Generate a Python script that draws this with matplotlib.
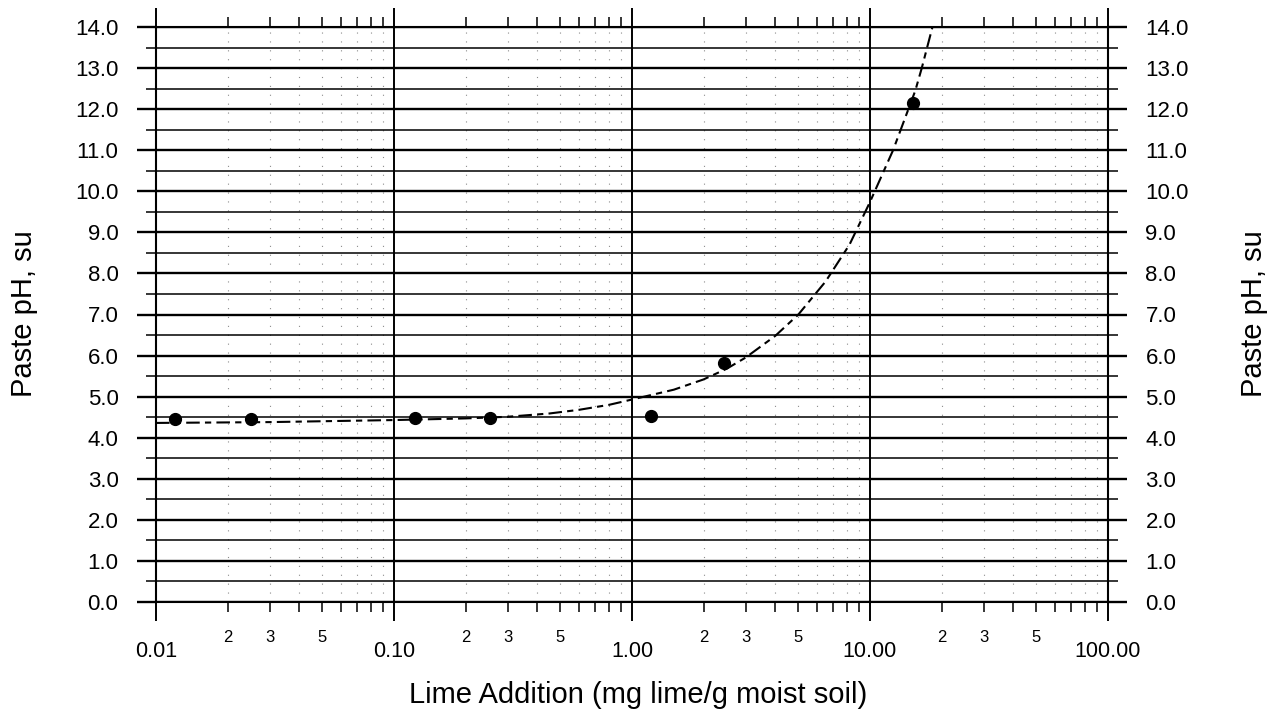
import matplotlib
matplotlib.use("Agg")
import matplotlib.pyplot as plt
from matplotlib.ticker import LogLocator, FuncFormatter, MultipleLocator, FormatStrFormatter
import numpy as np

plt.rcParams['font.family'] = ['Liberation Sans', 'DejaVu Sans']

# measured data points
lime_mg = [0.012, 0.025, 0.122, 0.253, 1.20, 2.44, 15.2]
paste_ph = [4.45, 4.45, 4.47, 4.48, 4.54, 5.81, 12.16]

# trend curve
curve_x = [0.01, 0.03, 0.1, 0.2, 0.3, 0.45, 0.6, 0.8, 1.0, 1.5, 2.0, 2.5, 3.0, 4.0,
           5.0, 6.5, 8.2, 10.0, 12.5, 15.5, 16.5, 18.3]
curve_y = [4.36, 4.38, 4.43, 4.47, 4.51, 4.59, 4.68, 4.80, 4.93, 5.17, 5.42, 5.68, 5.95, 6.48,
           7.0, 7.8, 8.7, 9.74, 11.0, 12.45, 13.0, 14.0]

x_major = [0.01, 0.1, 1, 10, 100]
x_major_labels = ['0.01', '0.10', '1.00', '10.00', '100.00']
x_minor_labelled = {2: '2', 3: '3', 5: '5'}

W, H = 1282, 716
fig = plt.figure(figsize=(W / 100, H / 100), dpi=100)
ax = fig.add_axes([156 / W, 1 - 602 / H, (1108 - 156) / W, (602 - 27) / H])

ax.set_xscale('log')
ax.set_xlim(0.01, 100)
ax.set_ylim(0, 14)

ax.set_xticks(x_major)
ax.set_xticklabels(x_major_labels)
ax.xaxis.set_minor_locator(LogLocator(base=10, subs=range(2, 10)))


def minor_fmt(v, pos):
    m = int(round(v / 10 ** np.floor(np.log10(v) + 1e-9)))
    return x_minor_labelled.get(m, '')


ax.xaxis.set_minor_formatter(FuncFormatter(minor_fmt))

ax.yaxis.set_major_locator(MultipleLocator(1.0))
ax.yaxis.set_minor_locator(MultipleLocator(0.5))
ax.yaxis.set_major_formatter(FormatStrFormatter('%.1f'))

# grid
ax.grid(True, which='major', axis='y', color='black', lw=1.7)
ax.grid(True, which='minor', axis='y', color='black', lw=1.1)
ax.grid(True, which='major', axis='x', color='black', lw=1.4)
ax.grid(True, which='minor', axis='x', color='0.55', lw=0.8, linestyle=(0, (1, 7)))
ax.set_axisbelow(True)

for s in ax.spines.values():
    s.set_linewidth(1.5)

ax.tick_params(axis='y', which='major', direction='out', length=14, width=1.7,
               left=True, right=True, labelleft=True, labelright=True, labelsize=16, pad=13)
ax.tick_params(axis='y', which='minor', direction='out', length=7, width=1.1,
               left=True, right=True)
ax.tick_params(axis='x', which='major', direction='out', length=14, width=1.4,
               top=True, bottom=True, labelsize=15.5, pad=14)
ax.tick_params(axis='x', which='minor', direction='out', length=7, width=1.1,
               top=True, bottom=True, labelsize=12, pad=13)

# curve and points
ax.plot(curve_x, curve_y, color='black', lw=1.5, dashes=(6.5, 2.5, 3, 2.5))
ax.plot(lime_mg, paste_ph, 'o', color='black', ms=8.5, zorder=5)

fig.text(638 / W, 1 - 695 / H, 'Lime Addition (mg lime/g moist soil)', ha='center', va='center', fontsize=21)
fig.text(24 / W, 1 - 314 / H, 'Paste pH, su', rotation=90, ha='center', va='center', fontsize=21)
fig.text(1254 / W, 1 - 314 / H, 'Paste pH, su', rotation=90, ha='center', va='center', fontsize=21)

fig.savefig('out.png', dpi=100)
